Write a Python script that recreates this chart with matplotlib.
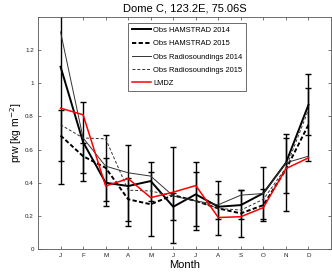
import numpy as np
import matplotlib
matplotlib.use("Agg")
import matplotlib.pyplot as plt

plt.rcParams["font.family"] = ["Liberation Sans", "DejaVu Sans"]

# ---------------------------------------------------------------------
# Data
# ---------------------------------------------------------------------
months = ["J", "F", "M", "A", "M", "J", "J", "A", "S", "O", "N", "D"]

ham_2014 = [1.10, 0.645, 0.40, 0.38, 0.41, 0.255, 0.33, 0.255, 0.265, 0.337, 0.52, 0.87]
ham_2014_lo = [0.39, 0.41, 0.26, 0.14, 0.29, 0.175, 0.14, 0.085, 0.18, 0.18, 0.335, 0.69]
ham_2014_hi = [1.81, 0.89, 0.55, 0.626, 0.525, 0.335, 0.525, 0.41, 0.355, 0.495, 0.695, 1.055]

ham_2015 = [0.685, 0.56, 0.49, 0.30, 0.27, 0.325, 0.29, 0.245, 0.215, 0.265, 0.48, 0.75]
ham_2015_lo = [0.53, 0.46, 0.29, 0.17, 0.08, 0.035, 0.115, 0.18, 0.075, 0.17, 0.23, 0.533]
ham_2015_hi = [0.84, 0.64, 0.687, 0.43, 0.465, 0.615, 0.465, 0.33, 0.355, 0.36, 0.67, 0.97]

rs_2014 = [1.31, 0.67, 0.50, 0.46, 0.44, 0.32, 0.29, 0.267, 0.325, 0.335, 0.52, 0.56]
rs_2015 = [0.75, 0.67, 0.665, 0.355, 0.35, 0.32, 0.29, 0.245, 0.235, 0.30, 0.49, 0.84]
lmdz = [0.85, 0.81, 0.38, 0.425, 0.31, 0.343, 0.383, 0.19, 0.195, 0.25, 0.485, 0.55]

x = np.arange(1, len(months) + 1)

# ---------------------------------------------------------------------
# Plot
# ---------------------------------------------------------------------
fig = plt.figure(figsize=(3.32, 2.78), dpi=100)
ax = fig.add_axes([0.1145, 0.1043, 0.8825, 0.8345])

def _err(center, lo, hi):
    c = np.array(center)
    return [c - np.array(lo), np.array(hi) - c]

ax.errorbar(x, ham_2014, yerr=_err(ham_2014, ham_2014_lo, ham_2014_hi), fmt="none",
            ecolor="black", elinewidth=1.0, capsize=2.5, capthick=1.0, zorder=2)
ax.errorbar(x, ham_2015, yerr=_err(ham_2015, ham_2015_lo, ham_2015_hi), fmt="none",
            ecolor="black", elinewidth=1.0, capsize=2.5, capthick=1.0, zorder=2)

ax.plot(x, ham_2014, color="black", lw=1.4, label="Obs HAMSTRAD 2014", zorder=3)
ax.plot(x, ham_2015, color="black", lw=1.4, dashes=(2.2, 1.2), label="Obs HAMSTRAD 2015", zorder=3)
ax.plot(x, rs_2014, color="#333333", lw=0.7, label="Obs Radiosoundings 2014", zorder=3)
ax.plot(x, rs_2015, color="#333333", lw=0.7, dashes=(3, 2), label="Obs Radiosoundings 2015", zorder=3)
ax.plot(x, lmdz, color="red", lw=1.1, label="LMDZ", zorder=4)

ax.set_xlim(0, 13)
ax.set_ylim(0, 1.4)
ax.set_xticks(x)
ax.set_xticklabels(months)
ax.set_yticks([0, 0.2, 0.4, 0.6, 0.8, 1.0, 1.2])
ax.set_yticklabels(["0", "0.2", "0.4", "0.6", "0.8", "1", "1.2"])
ax.tick_params(direction="in", top=True, right=True, labelsize=4.5, length=2.5,
               width=0.5, colors="#444444", labelcolor="#222222", pad=3)
for sp in ax.spines.values():
    sp.set_color("#555555")
    sp.set_linewidth(0.6)

ax.set_title("Dome C, 123.2E, 75.06S", fontsize=8, pad=4)
ax.set_xlabel("Month", fontsize=8, labelpad=1)
ax.set_ylabel("prw [kg m$^{-2}$]", fontsize=7.5, labelpad=1)

leg = ax.legend(loc="upper left", bbox_to_anchor=(0.295, 0.99), fontsize=5.4,
                handlelength=2.5, handletextpad=0.3, borderpad=0.5, labelspacing=0.8,
                fancybox=False, framealpha=1, edgecolor="#555555")
leg.get_frame().set_linewidth(0.6)

fig.savefig("out.png", dpi=100)
